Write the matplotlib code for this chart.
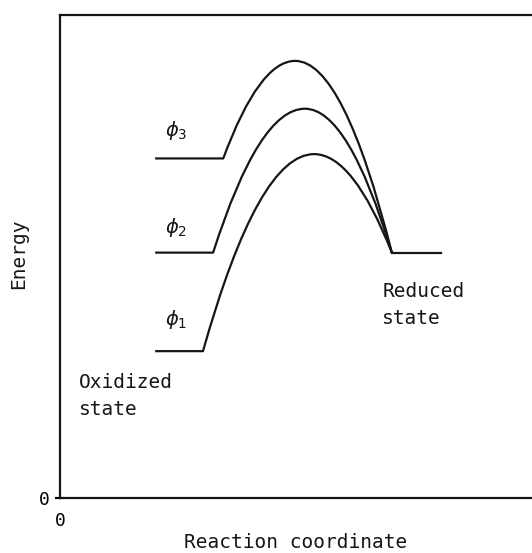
import matplotlib.pyplot as plt
from matplotlib.path import Path
from matplotlib.patches import PathPatch

# key points (reaction coordinate, energy)
start_x = 1.97          # where the oxidized-state plateaus begin
kink_x = [2.96, 3.17, 3.38]      # end of plateau for phi1, phi2, phi3
level_y = [3.04, 5.08, 7.03]     # plateau energies
peak_x = [5.26, 5.07, 4.87]
peak_y = [7.12, 8.06, 9.05]
end_x = 6.87            # common meeting point (reduced state)
end_y = 5.08
reduced_end_x = 7.89

labels = ["$\\phi_1$", "$\\phi_2$", "$\\phi_3$"]
label_x = 2.40
label_y = [3.69, 5.61, 7.60]

mono = "DejaVu Sans Mono"
ink = "#161616"

fig = plt.figure(figsize=(5.32, 5.53), dpi=100)
ax = fig.add_axes([0.1128, 0.0995, 0.9079, 0.8734])

for kx, ly, px, py in zip(kink_x, level_y, peak_x, peak_y):
    # plateau, then two parabolic arcs (quadratic Bezier) over the barrier
    verts = [(start_x, ly), (kx, ly),
             ((kx + px) / 2, py), (px, py),
             ((px + end_x) / 2, py), (end_x, end_y)]
    codes = [Path.MOVETO, Path.LINETO,
             Path.CURVE3, Path.CURVE3,
             Path.CURVE3, Path.CURVE3]
    ax.add_patch(PathPatch(Path(verts, codes), fill=False, ec=ink, lw=1.6,
                           joinstyle="round"))

ax.plot([end_x, reduced_end_x], [end_y, end_y], color=ink, lw=1.6)

for lab, yy in zip(labels, label_y):
    ax.text(label_x, yy, lab, fontsize=14, ha="center", va="center", color=ink)

ax.text(6.67, 4.0, "Reduced\nstate", family=mono, fontsize=14, ha="left", va="center",
        linespacing=1.55, color=ink)
ax.text(0.39, 2.11, "Oxidized\nstate", family=mono, fontsize=14, ha="left", va="center",
        linespacing=1.55, color=ink)

ax.set_xlim(0, 10)
ax.set_ylim(0, 10)
ax.set_xticks([0])
ax.set_yticks([0])
ax.set_xticklabels(["0"], family=mono, fontsize=13)
ax.set_yticklabels(["0"], family=mono, fontsize=13)
ax.tick_params(axis="y", direction="inout", length=7, width=1.5, pad=4)
ax.tick_params(axis="x", length=0, pad=10)

ax.spines["right"].set_visible(False)
for s in ["left", "bottom", "top"]:
    ax.spines[s].set_linewidth(1.6)
    ax.spines[s].set_color(ink)

ax.set_ylabel("Energy", family=mono, fontsize=14, color=ink)
ax.yaxis.set_label_coords(-0.066, 0.505)
ax.set_xlabel("Reaction coordinate", family=mono, fontsize=14, color=ink)
ax.xaxis.label.set_va("baseline")
ax.xaxis.set_label_coords(0.487, -0.1035)

fig.savefig("out.png", dpi=100)
